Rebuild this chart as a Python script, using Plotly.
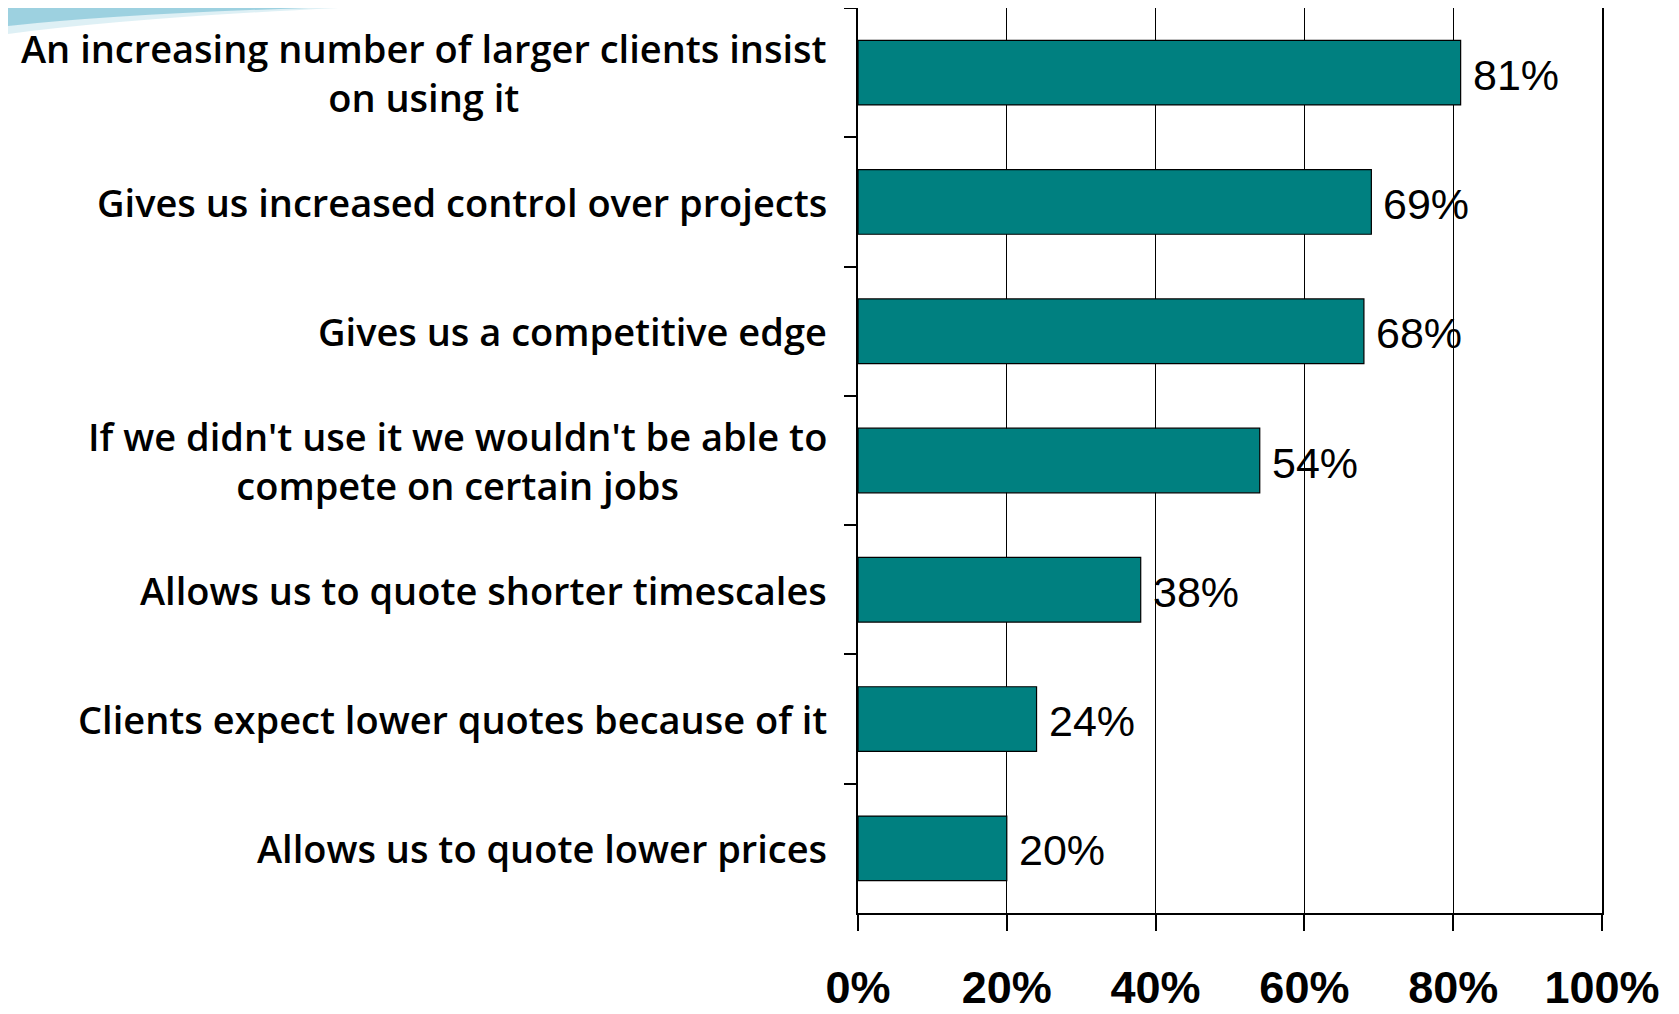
import plotly.graph_objects as go

categories = [
    "An increasing number of larger clients insist<br>on using it",
    "Gives us increased control over projects",
    "Gives us a competitive edge",
    "If we didn't use it we wouldn't be able to<br>compete on certain jobs",
    "Allows us to quote shorter timescales",
    "Clients expect lower quotes because of it",
    "Allows us to quote lower prices",
]
values = [81, 69, 68, 54, 38, 24, 20]
x_ticks = [0, 20, 40, 60, 80, 100]
x_tick_labels = ["0%", "20%", "40%", "60%", "80%", "100%"]

# page has an 8px body margin -> figure offset by 8px in the window
W, H = 1663, 1006
L, R, T, B = 850, 69, 0, 101

fig = go.Figure()
fig.add_trace(go.Bar(
    x=values, y=categories, orientation="h",
    marker=dict(color="#008080", line=dict(color="#000000", width=1.2)),
    width=0.5, hoverinfo="skip",
))

num_font = "Liberation Sans, Arial, sans-serif"
label_font = "Open Sans, sans-serif"

annotations = []
for c, v in zip(categories, values):
    annotations.append(dict(
        x=v, y=c, xref="x", yref="y", text=f"{v}%", showarrow=False,
        xanchor="left", yanchor="middle", xshift=10, yshift=-2,
        font=dict(family=num_font, size=43, color="#000000"),
    ))
    annotations.append(dict(
        x=0, y=c, xref="paper", yref="y", text=c, showarrow=False,
        xanchor="right", yanchor="middle", xshift=-29, align="center",
        font=dict(family=label_font, size=38, color="#000000", weight=600),
    ))

# decorative swoosh (top-left corner)
pw = W - L - R
ph = H - T - B
def px(x):
    return (x - L) / pw
def py(y):
    return (H - B - y) / ph
swoosh = (f"M {px(0)},{py(0)} L {px(300)},{py(0)} "
          f"Q {px(110)},{py(6)} {px(0)},{py(18)} Z")
swoosh2 = (f"M {px(0)},{py(0)} L {px(330)},{py(0)} "
           f"Q {px(120)},{py(10)} {px(0)},{py(26)} Z")

fig.update_layout(
    width=W, height=H,
    margin=dict(l=L, r=R, t=T, b=B, pad=0, autoexpand=False),
    paper_bgcolor="#ffffff", plot_bgcolor="#ffffff",
    showlegend=False, bargap=0.5,
    annotations=annotations,
    shapes=[
        dict(type="path", path=swoosh2, xref="paper", yref="paper",
             fillcolor="rgba(190,225,235,0.5)", line=dict(width=0), layer="below"),
        dict(type="path", path=swoosh, xref="paper", yref="paper",
             fillcolor="rgba(150,205,222,0.9)", line=dict(width=0), layer="below"),
    ],
    xaxis=dict(
        range=[0, 100], tickvals=x_ticks, ticktext=x_tick_labels,
        showgrid=True, gridcolor="#000000", gridwidth=1.3,
        showline=True, linecolor="#000000", linewidth=2, mirror=True,
        ticks="outside", ticklen=16, tickcolor="#000000", tickwidth=1.5,
        tickfont=dict(family=num_font, size=45, color="#000000", weight="bold"),
        ticklabelstandoff=18, zeroline=False, fixedrange=True,
        automargin=False,
    ),
    yaxis=dict(
        autorange="reversed", showticklabels=False,
        tickson="boundaries", ticks="outside", ticklen=12,
        tickcolor="#000000", tickwidth=1.5,
        showline=True, linecolor="#000000", linewidth=1.5, mirror=True,
        showgrid=False, fixedrange=True, automargin=False,
    ),
)

fig.write_html("out.html", config={"displayModeBar": False})
